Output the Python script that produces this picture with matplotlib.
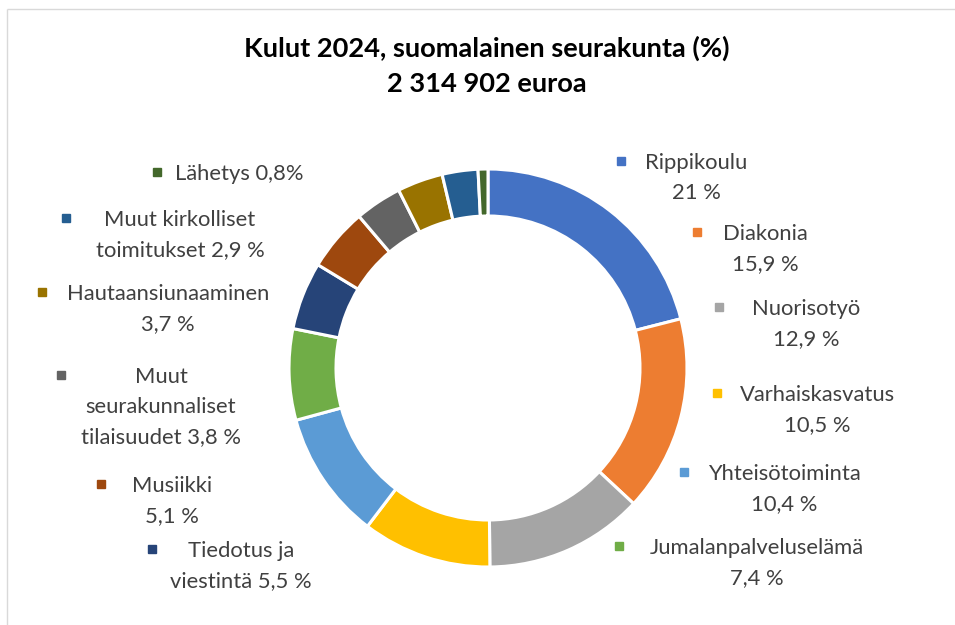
import matplotlib
matplotlib.use("Agg")
import matplotlib.pyplot as plt

# ---------------- data ----------------
categories = [
    "Rippikoulu", "Diakonia", "Nuorisotyö", "Varhaiskasvatus", "Yhteisötoiminta",
    "Jumalanpalveluselämä", "Tiedotus ja viestintä", "Musiikki",
    "Muut seurakunnaliset tilaisuudet", "Hautaansiunaaminen",
    "Muut kirkolliset toimitukset", "Lähetys",
]
values = [21, 15.9, 12.9, 10.5, 10.4, 7.4, 5.5, 5.1, 3.8, 3.7, 2.9, 0.8]
label_templates = [
    "Rippikoulu\n{v} %", "Diakonia\n{v} %", "Nuorisotyö\n{v} %",
    "Varhaiskasvatus\n{v} %", "Yhteisötoiminta\n{v} %", "Jumalanpalveluselämä\n{v} %",
    "Tiedotus ja\nviestintä {v} %", "Musiikki\n{v} %",
    "Muut\nseurakunnaliset\ntilaisuudet {v} %", "Hautaansiunaaminen\n{v} %",
    "Muut kirkolliset\ntoimitukset {v} %", "Lähetys {v}%",
]
title_lines = ["Kulut 2024, suomalainen seurakunta (%)", "2 314 902 euroa"]

# ---------------- styles / layout ----------------
colors = ["#4472C4", "#ED7D31", "#A5A5A5", "#FFC000", "#5B9BD5", "#70AD47",
          "#264478", "#9E480E", "#636363", "#997300", "#255E91", "#43682B"]
# label layout in pixels (top-left origin): marker x, text center x, first line y
label_layout = [
    (621, 696, 161), (697, 765, 232), (719, 806, 307), (717, 817, 393),
    (684, 784, 472), (619, 757, 546), (152, 241, 549), (101, 172, 484),
    (61, 161, 375), (42, 168, 292), (66, 180, 218), (157, 239.5, 172),
]

W, H = 955, 625
FONT = "Lato"
LABEL_PT = 15.8
TITLE_PT = 19.6
LINE_PX = 30
TEXT_COLOR = "#404040"


def fmt(v):
    return ("%g" % v).replace(".", ",")


fig = plt.figure(figsize=(W / 100, H / 100), dpi=100)
ax = fig.add_axes([0, 0, 1, 1])

# border (chart area frame)
ax.plot([7, W], [H - 9, H - 9], color="#D9D9D9", lw=1.0, solid_capstyle="butt")
ax.plot([7, 7], [H - 9, 0], color="#D9D9D9", lw=1.0, solid_capstyle="butt")

# donut
cx, cy, R = 488, H - 368, 199
ax.pie(values, colors=colors, startangle=90, counterclock=False,
       center=(cx, cy), radius=R, frame=True,
       wedgeprops=dict(width=47, edgecolor="white", linewidth=2.2))
ax.set_xlim(0, W)
ax.set_ylim(0, H)
ax.set_aspect("equal")
ax.axis("off")

# title
title_y = [48, 84]
for line, ty in zip(title_lines, title_y):
    ax.text(487, H - ty, line, ha="center", va="center", fontsize=TITLE_PT,
            fontweight="bold", family=FONT, color="#000000")

# labels
label_px = LABEL_PT / 0.72
for tmpl, v, col, (mx, tx, y0) in zip(label_templates, values, colors, label_layout):
    text = tmpl.format(v=fmt(v))
    for i, line in enumerate(text.split("\n")):
        yc = y0 + i * LINE_PX
        ax.text(tx, H - yc - 0.36 * label_px, line, ha="center", va="baseline",
                fontsize=LABEL_PT, family=FONT, color=TEXT_COLOR)
    ax.plot([mx], [H - y0], marker="s", markersize=5.8, color=col, linestyle="none")

fig.savefig("out.png", dpi=100, facecolor="white")
